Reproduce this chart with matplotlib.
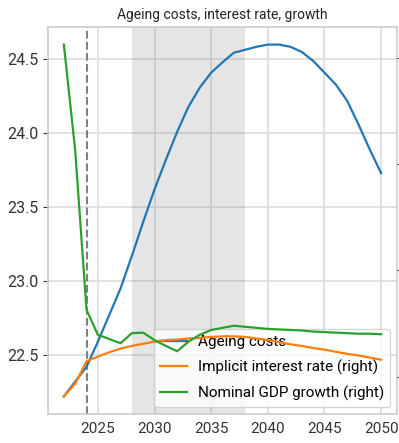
import matplotlib
matplotlib.use("Agg")
import matplotlib.pyplot as plt
from matplotlib.ticker import MultipleLocator

years = list(range(2022, 2051))

ageing_costs = [22.22, 22.32, 22.42, 22.59, 22.77, 22.95, 23.17, 23.40, 23.62,
                23.82, 24.01, 24.18, 24.31, 24.41, 24.48, 24.545, 24.565, 24.585,
                24.60, 24.60, 24.585, 24.55, 24.49, 24.41, 24.33, 24.22, 24.06,
                23.89, 23.73]

interest_rate = [1.63, 1.87, 2.29, 2.38, 2.46, 2.53, 2.58, 2.62, 2.66, 2.69,
                 2.70, 2.72, 2.73, 2.75, 2.76, 2.76, 2.75, 2.72, 2.69, 2.65,
                 2.61, 2.58, 2.54, 2.51, 2.47, 2.43, 2.40, 2.36, 2.32]

gdp_growth = [8.25, 6.26, 3.26, 2.79, 2.71, 2.63, 2.82, 2.83, 2.69, 2.58,
              2.48, 2.66, 2.79, 2.88, 2.92, 2.96, 2.94, 2.92, 2.90, 2.89,
              2.88, 2.87, 2.85, 2.84, 2.83, 2.82, 2.81, 2.81, 2.80]

last_actual = 2024
shade_start, shade_end = 2028, 2038

plt.rcParams['font.family'] = ['Roboto', 'DejaVu Sans']
plt.rcParams['font.size'] = 10

fig = plt.figure(figsize=(3.99, 4.43), dpi=100)
ax = fig.add_axes([48 / 399, 29 / 443, 349 / 399, 387 / 443])
ax.set_axisbelow(True)
ax.grid(True, color='#dcdcdc', linewidth=1.2)
for s in ax.spines.values():
    s.set_color('#cccccc')
    s.set_linewidth(1.2)

ax.axvspan(shade_start, shade_end, color='gray', alpha=0.2, linewidth=0)
ax.axvline(last_actual, color='gray', linestyle='--', linewidth=1.5)

l1, = ax.plot(years, ageing_costs, color='tab:blue', linewidth=1.6, label='Ageing costs')
ax.yaxis.set_major_locator(MultipleLocator(0.5))
ax.xaxis.set_major_locator(MultipleLocator(5))
ax.tick_params(axis='x', length=0, pad=6, colors='#333333', labelsize=11)
ax.tick_params(axis='y', length=3.5, color='#333333', colors='#333333', labelsize=11.5)
ax.set_title('Ageing costs, interest rate, growth', fontsize=10, color='#222222', pad=6)

ax2 = ax.twinx()
l2, = ax2.plot(years, interest_rate, color='tab:orange', linewidth=1.6,
               label='Implicit interest rate (right)')
l3, = ax2.plot(years, gdp_growth, color='tab:green', linewidth=1.6,
               label='Nominal GDP growth (right)')
ax2.grid(False)
ax2.yaxis.set_major_locator(MultipleLocator(2))
# right-hand labels fall outside the picture in the reference, only tick marks show
ax2.tick_params(axis='y', length=3.5, color='#333333', labelright=False)
for s in ax2.spines.values():
    s.set_visible(False)

ax.legend(handles=[l1, l2, l3], loc='lower right', fontsize=11,
          edgecolor='#cccccc', handlelength=1.75, handletextpad=0.7,
          labelspacing=0.7, borderaxespad=0.45)

fig.savefig('out.png', dpi=100)
